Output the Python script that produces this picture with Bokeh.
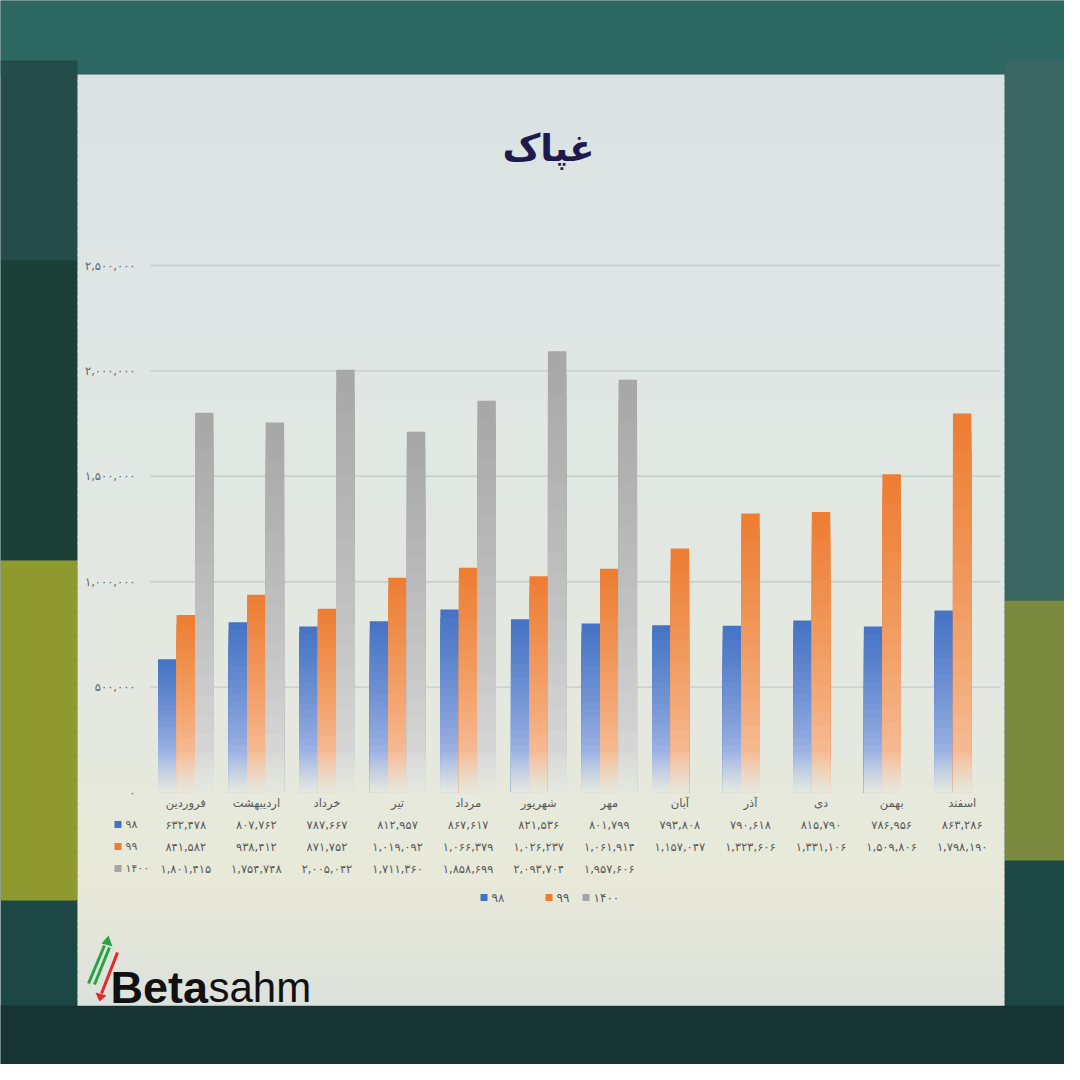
import numpy as np
from bokeh.plotting import figure
from bokeh.models import Range1d, ColumnDataSource
from bokeh.core.properties import value
from bokeh.embed import file_html
from bokeh.resources import INLINE

# ---------------- data ----------------
title_text = "غپاک"
months = ["فروردین", "اردیبهشت", "خرداد", "تیر", "مرداد", "شهریور",
          "مهر", "آبان", "آذر", "دی", "بهمن", "اسفند"]
series_names = ["۹۸", "۹۹", "۱۴۰۰"]
s98 = [632478, 807762, 787667, 812957, 867617, 821536,
       801799, 793808, 790618, 815790, 786956, 863286]
s99 = [841582, 938412, 871752, 1019092, 1066379, 1026237,
       1061914, 1157047, 1323606, 1331106, 1509806, 1798190]
s1400 = [1801415, 1754748, 2005042, 1711360, 1858699, 2093704,
         1957606, None, None, None, None, None]
y_ticks = [0, 500000, 1000000, 1500000, 2000000, 2500000]
logo_bold = "Beta"
logo_light = "sahm"

FA = str.maketrans("0123456789", "۰۱۲۳۴۵۶۷۸۹")


def fa(n):
    return f"{n:,}".translate(FA)


def hx(c):
    c = c.lstrip("#")
    return np.array([int(c[i:i + 2], 16) for i in (0, 2, 4)], dtype=float)


def mix(a, b, t):
    t = min(max(t, 0.0), 1.0)
    c = hx(a) * (1 - t) + hx(b) * t
    return "#%02x%02x%02x" % tuple(int(round(v)) for v in c)


# ---------------- layout (pixels) ----------------
W = H = 1064
PLOT_L, PLOT_R = 150, 997
ZERO_PY, TOP_PY = 792, 265
YMAX = y_ticks[-1]
STEP = (PLOT_R - PLOT_L) / 12
CAT0 = PLOT_L + STEP / 2
PER_PX = YMAX / (ZERO_PY - TOP_PY)
PAN_L, PAN_R, PAN_T, PAN_B = 77, 1004, 74, 1005

BG = "#1d4744"
p = figure(width=W, height=H, x_range=Range1d(0, W), y_range=Range1d(H, 0),
           x_axis_type=None, y_axis_type=None, toolbar_location=None,
           output_backend="svg", min_border=0, outline_line_color=None,
           background_fill_color=BG, border_fill_color=BG)
p.extra_x_ranges = {"idx": Range1d((0 - CAT0) / STEP, (W - CAT0) / STEP)}
p.extra_y_ranges = {"val": Range1d((ZERO_PY - H) * PER_PX, ZERO_PY * PER_PX)}

# ---------------- background decoration ----------------
bg_l = [0, 0, 0, 0, PAN_R, PAN_R, 0]
bg_r = [W, PAN_L, PAN_L, PAN_L, W, W, W]
bg_t = [0, 60, 260, 560, 60, 600, PAN_B]
bg_b = [PAN_T, 260, 560, 900, 600, 860, H]
bg_c = ["#2c6762", "#244c48", "#1a4038", "#8e9a30", "#3a6662", "#7b8a3e", "#163532"]
p.quad(left=bg_l, right=bg_r, top=bg_t, bottom=bg_b, fill_color=bg_c, line_color=None)

# panel with vertical gradient
stops_y = [PAN_T, 300, 700, 880, PAN_B]
stops_c = ["#d9e1e2", "#dfe6e5", "#e4e8e0", "#e8e9d8", "#dde1dc"]


def panel_col(py):
    for k in range(len(stops_y) - 1):
        if stops_y[k] <= py <= stops_y[k + 1]:
            t = (py - stops_y[k]) / (stops_y[k + 1] - stops_y[k])
            return mix(stops_c[k], stops_c[k + 1], t)
    return stops_c[-1]


strip_t = list(range(PAN_T, PAN_B, 6))
strip_b = [min(t + 7, PAN_B) for t in strip_t]
strip_c = [panel_col(t + 3) for t in strip_t]
p.quad(left=PAN_L, right=PAN_R, top=strip_t, bottom=strip_b, fill_color=strip_c, line_color=None)

# ---------------- grid + y labels ----------------
p.segment(x0=PLOT_L, x1=PLOT_R + 3, y0=y_ticks[1:], y1=y_ticks[1:],
          line_color="#c6cbcb", line_width=1.4, y_range_name="val")
p.text(x=[PLOT_L - 15] * len(y_ticks), y=y_ticks, text=[fa(t) for t in y_ticks],
       y_range_name="val", text_align="right", text_baseline="middle",
       text_font=value("DejaVu Sans"), text_font_size="11.5px", text_color="#666666")

# ---------------- bars with gradient ----------------
PANEL_BOTTOM = "#e5e8de"
FADE = 190000
BW = 0.262
series = [
    (s98, -BW, "#4472c4", "#a0b5e5"),
    (s99, 0.0, "#ed7d31", "#f6bd97"),
    (s1400, BW, "#a7a7a7", "#d8d8d8"),
]
for vals, off, ctop, clight in series:
    xs, tops, cols = [], [], []
    for i, v in enumerate(vals):
        if v is None:
            continue
        lv = [FADE * (j + 1) / 10 for j in range(10)]
        lv += [FADE + (v - FADE) * (k + 1) / 18 for k in range(18)]
        lv = sorted(lv, reverse=True)
        for n, t in enumerate(lv):
            lower = lv[n + 1] if n + 1 < len(lv) else 0.0
            mid = (t + lower) / 2
            if mid < FADE:
                c = mix(PANEL_BOTTOM, clight, (mid / FADE) ** 1.1)
            else:
                c = mix(clight, ctop, ((mid - FADE) / (v - FADE)) ** 0.8)
            xs.append(i + off)
            tops.append(t)
            cols.append(c)
    src = ColumnDataSource(dict(x=xs, top=tops, color=cols))
    p.vbar(x="x", top="top", bottom=0, width=BW, source=src, fill_color="color",
           line_color=None, x_range_name="idx", y_range_name="val")

# ---------------- category labels + data table ----------------
TXT = "#595959"
FONT = value("DejaVu Sans")
idx = list(range(12))
p.text(x=idx, y=[802] * 12, text=months, x_range_name="idx", text_align="center",
       text_baseline="middle", text_font=FONT, text_font_size="11.5px", text_color=TXT)
row_y = [824, 846, 868]
key_cols = ["#4472c4", "#ed7d31", "#a5a5a5"]
for r, vals in enumerate([s98, s99, s1400]):
    xi = [i for i, v in enumerate(vals) if v is not None]
    tx = [fa(v) for v in vals if v is not None]
    p.text(x=xi, y=[row_y[r]] * len(xi), text=tx, x_range_name="idx",
           text_align="center", text_baseline="middle", text_font=FONT,
           text_font_size="11.5px", text_color=TXT)
p.quad(left=114, right=121, top=[y - 3.5 for y in row_y], bottom=[y + 3.5 for y in row_y],
       fill_color=key_cols, line_color=None)
p.text(x=[125] * 3, y=row_y, text=series_names, text_align="left", text_baseline="middle",
       text_font=FONT, text_font_size="11px", text_color=TXT)

# ---------------- legend ----------------
leg_x = [480, 545, 582]
LEG_Y = 897
p.quad(left=leg_x, right=[x + 7 for x in leg_x], top=LEG_Y - 3.5, bottom=LEG_Y + 3.5,
       fill_color=key_cols, line_color=None)
p.text(x=[x + 11 for x in leg_x], y=[LEG_Y] * 3, text=series_names, text_align="left",
       text_baseline="middle", text_font=FONT, text_font_size="12px", text_color=TXT)

# ---------------- title ----------------
p.text(x=[548], y=[148], text=[title_text], text_align="center", text_baseline="middle",
       text_font=FONT, text_font_size="37px", text_font_style="bold", text_color="#1f1a4e")

# ---------------- logo ----------------
p.text(x=[110], y=[987], text=[logo_bold], text_align="left", text_baseline="alphabetic",
       text_font=value("Liberation Sans"), text_font_size="45px", text_font_style="bold",
       text_color="#111111")
p.text(x=[208], y=[987], text=[logo_light], text_align="left", text_baseline="alphabetic",
       text_font=value("Liberation Sans"), text_font_size="42px", text_color="#111111")
p.segment(x0=[88, 94], y0=[983, 984], x1=[104, 109], y1=[945, 947],
          line_color="#27a445", line_width=3)
p.patch(x=[101, 108, 112], y=[943, 935, 946], fill_color="#27a445", line_color=None)
p.segment(x0=[117], y0=[952], x1=[101], y1=[993], line_color="#e02a2a", line_width=3)
p.patch(x=[95, 99, 106], y=[992, 1001, 995], fill_color="#e02a2a", line_color=None)

open("out.html", "w").write(file_html(p, INLINE))
